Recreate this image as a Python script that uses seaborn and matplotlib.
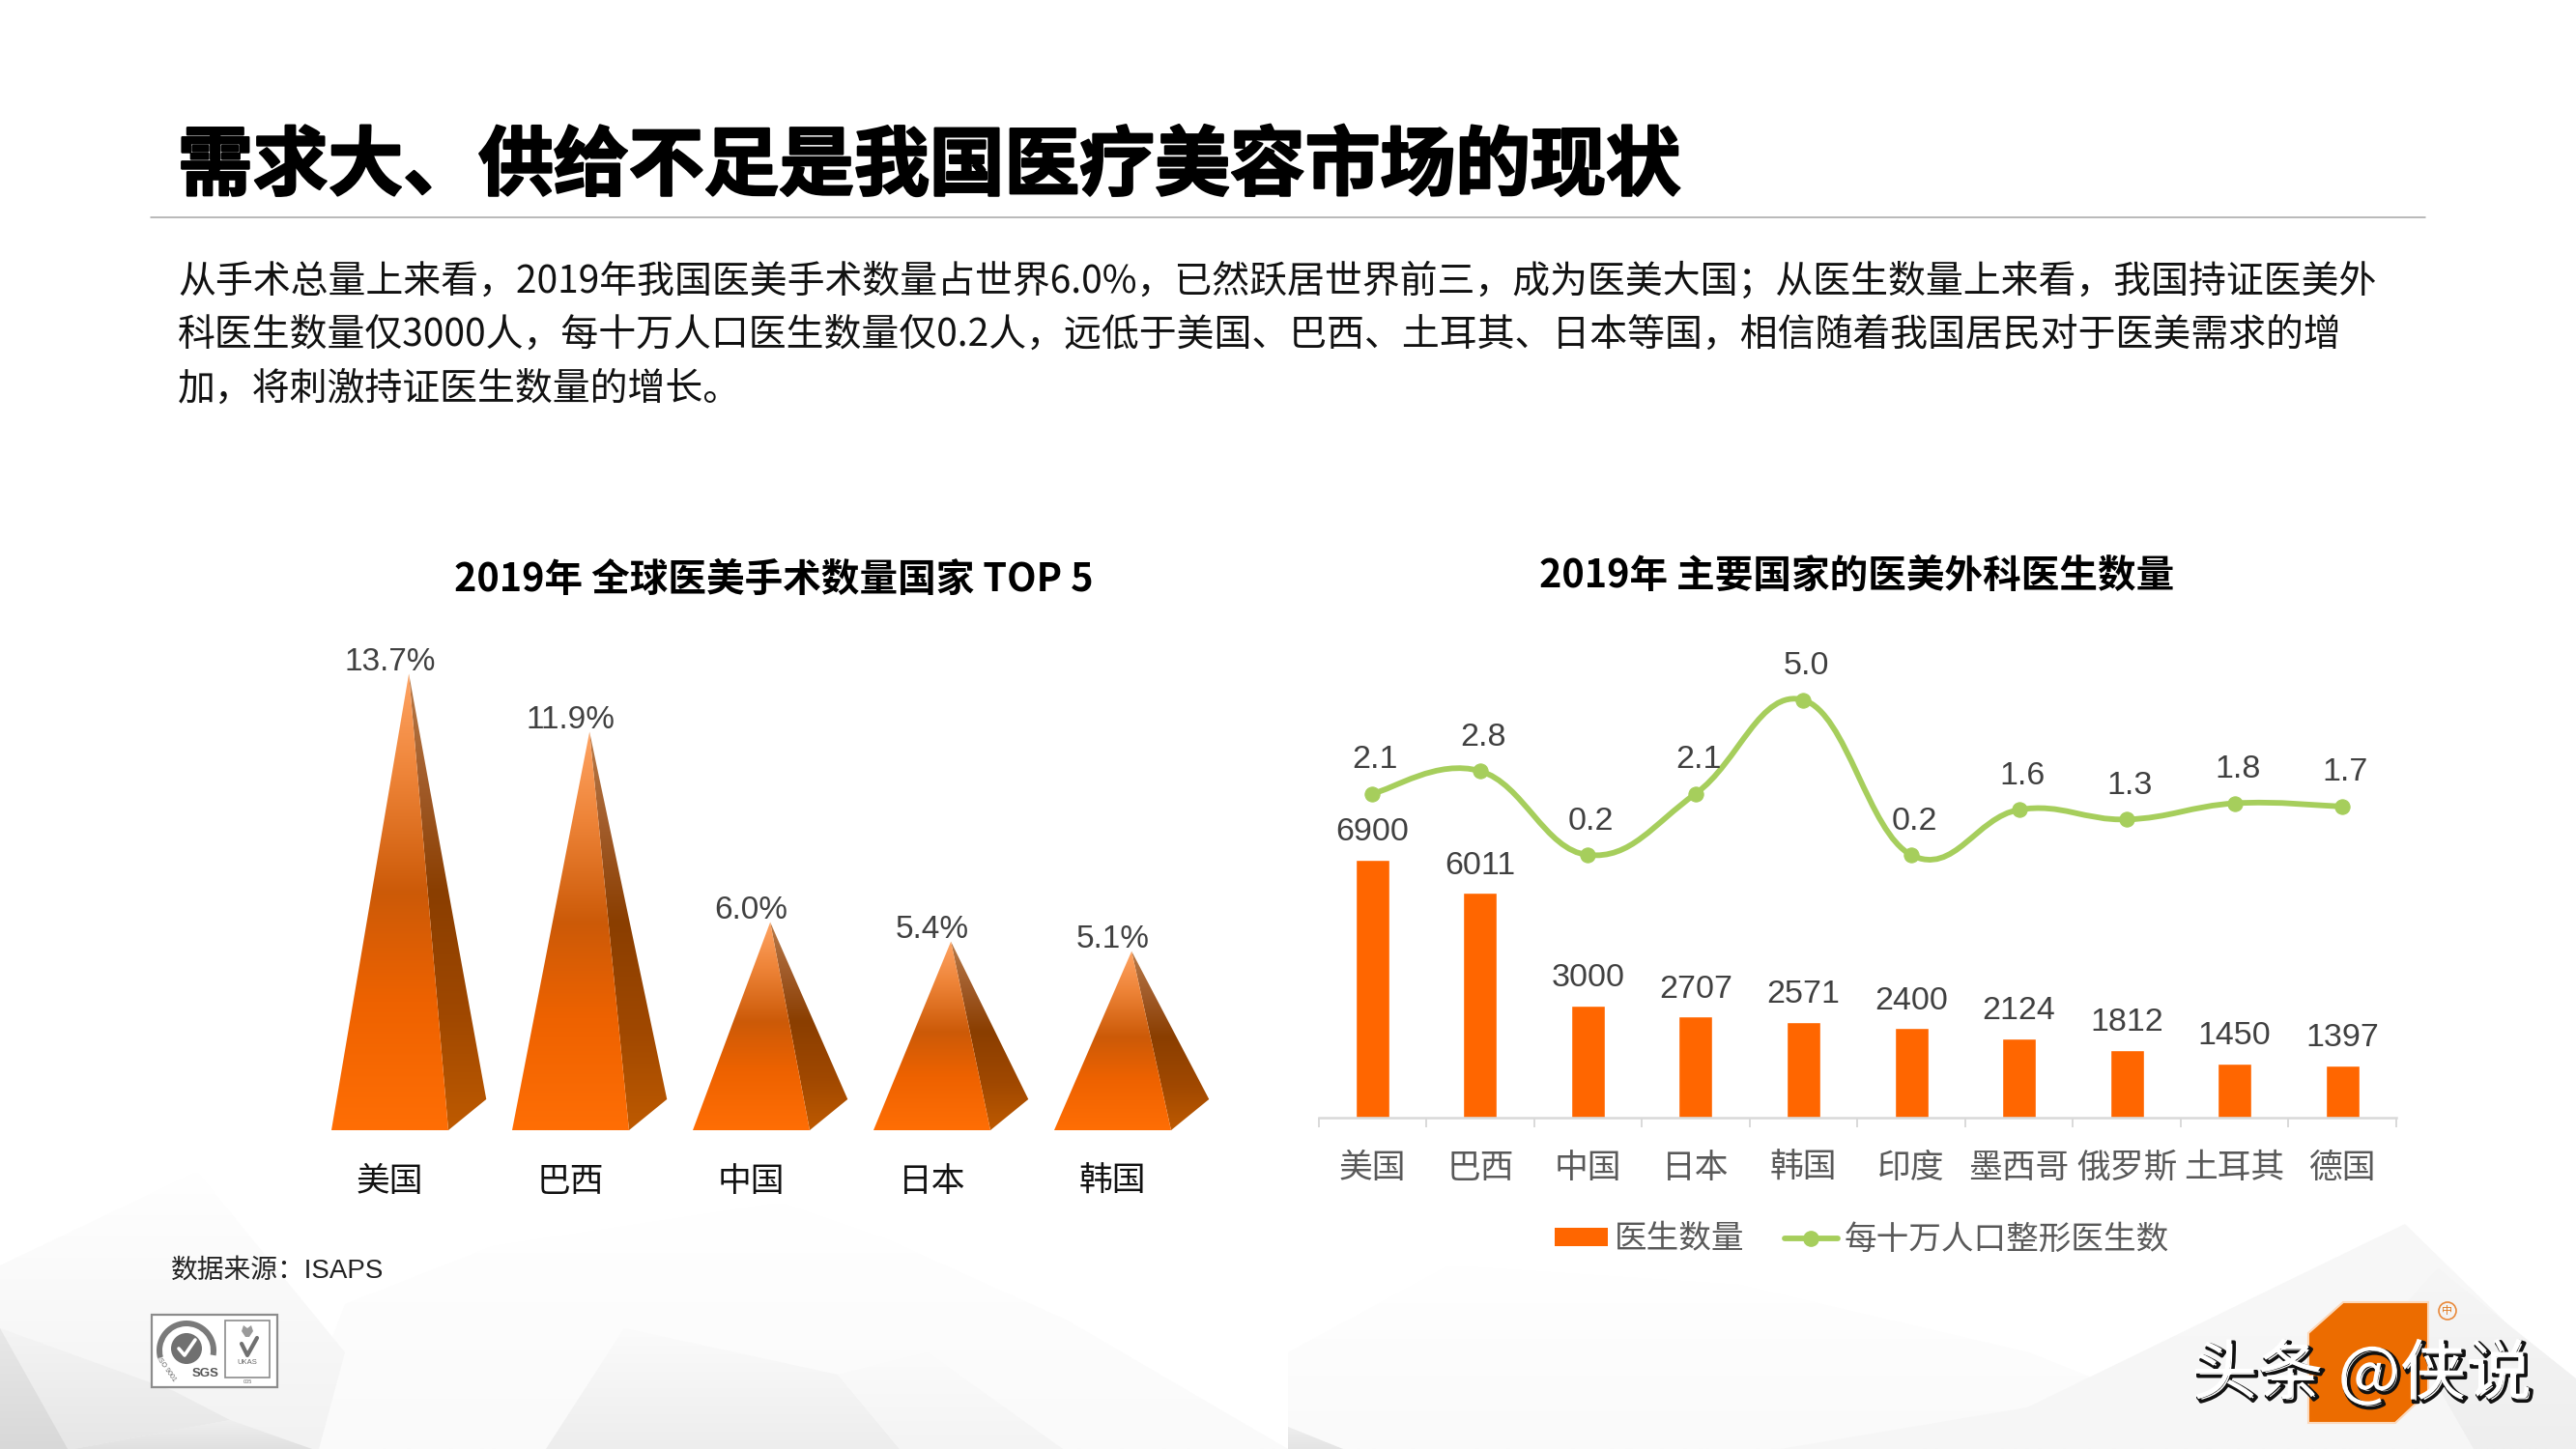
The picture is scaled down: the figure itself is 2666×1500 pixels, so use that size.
import numpy as np
import matplotlib
matplotlib.use("Agg")
import matplotlib.pyplot as plt
import matplotlib.patheffects as pe
from matplotlib.colors import LinearSegmentedColormap
from matplotlib.lines import Line2D
from matplotlib.patches import Patch, PathPatch, Polygon, Rectangle, Circle, Wedge
from matplotlib.path import Path
from matplotlib.ticker import FixedLocator
import seaborn as sns

# ---------- data ----------
title_text = "需求大、供给不足是我国医疗美容市场的现状"
body_lines = [
    "从手术总量上来看，2019年我国医美手术数量占世界6.0%，已然跃居世界前三，成为医美大国；从医生数量上来看，我国持证医美外",
    "科医生数量仅3000人，每十万人口医生数量仅0.2人，远低于美国、巴西、土耳其、日本等国，相信随着我国居民对于医美需求的增",
    "加，将刺激持证医生数量的增长。",
]
left_title = "2019年 全球医美手术数量国家 TOP 5"
right_title = "2019年 主要国家的医美外科医生数量"
top5_countries = ["美国", "巴西", "中国", "日本", "韩国"]
top5_share = [13.7, 11.9, 6.0, 5.4, 5.1]
doc_countries = ["美国", "巴西", "中国", "日本", "韩国", "印度", "墨西哥", "俄罗斯", "土耳其", "德国"]
doc_counts = [6900, 6011, 3000, 2707, 2571, 2400, 2124, 1812, 1450, 1397]
doc_per_100k = [2.1, 2.8, 0.2, 2.1, 5.0, 0.2, 1.6, 1.3, 1.8, 1.7]
legend_bar = "医生数量"
legend_line = "每十万人口整形医生数"
source_text = "数据来源：ISAPS"
watermark_text = "头条 @侠说"

# ---------- style ----------
sns.set_theme(style="white")
CJK = "Noto Sans CJK SC"
NUM = ["Liberation Sans", CJK]
plt.rcParams["font.family"] = [CJK, "DejaVu Sans"]
W, H = 2666, 1500
ORANGE = "#FF6600"
GREEN = "#A6CE5C"
LABEL = "#404040"
AXTEXT = "#595959"
PX = 0.72  # points per pixel at dpi 100

fig = plt.figure(figsize=(W / 100, H / 100), dpi=100, facecolor="white")


def axes_px(left, top, right, bottom, **kw):
    return fig.add_axes([left / W, 1 - bottom / H, (right - left) / W, (bottom - top) / H], **kw)


# ---------- background / decoration (pixel coordinates) ----------
bg = fig.add_axes([0, 0, 1, 1], zorder=0)
bg.set_xlim(0, W)
bg.set_ylim(H, 0)
bg.axis("off")

vgrad = np.linspace(0, 1, 128).reshape(-1, 1)


def fade_poly(pts, top_col, bot_col):
    """Decorative low-poly facet with a soft vertical fade."""
    pts = np.array(pts, dtype=float)
    poly = Polygon(pts, closed=True, fc="none", ec="none")
    bg.add_patch(poly)
    cmap = LinearSegmentedColormap.from_list("f", [top_col, bot_col])
    im = bg.imshow(vgrad, cmap=cmap, aspect="auto", origin="upper", interpolation="bilinear",
                   extent=(pts[:, 0].min(), pts[:, 0].max(), pts[:, 1].max(), pts[:, 1].min()), zorder=1)
    im.set_clip_path(poly)


facets = [
    ([(357, 1350), (510, 1290), (808, 1245), (918, 1283), (1105, 1367), (1333, 1500), (300, 1500)], "#FFFFFF", "#FAFAFA"),
    ([(1333, 1400), (1500, 1310), (1800, 1330), (2100, 1400), (2350, 1500), (1333, 1500)], "#FFFFFF", "#FAFAFA"),
    ([(0, 1310), (204, 1213), (357, 1400), (330, 1500), (0, 1500)], "#FFFFFF", "#F2F2F2"),
    ([(0, 1375), (180, 1440), (238, 1470), (76, 1500), (0, 1500)], "#F4F4F4", "#E6E6E6"),
    ([(0, 1375), (70, 1500), (0, 1500)], "#E8E8E8", "#D8D8D8"),
    ([(76, 1500), (238, 1470), (323, 1500)], "#EFEFEF", "#E0E0E0"),
    ([(646, 1375), (867, 1423), (931, 1500), (565, 1500)], "#FBFBFB", "#EDEDED"),
    ([(867, 1423), (931, 1500), (1100, 1500), (960, 1400)], "#FBFBFB", "#F4F4F4"),
    ([(2489, 1267), (2666, 1440), (2666, 1500), (1843, 1500), (2098, 1457)], "#F8F8F8", "#F6F6F6"),
    ([(2523, 1313), (2666, 1427), (2666, 1500), (2560, 1500), (2480, 1360)], "#F6F6F6", "#EEEEEE"),
    ([(1333, 1477), (1390, 1500), (1333, 1500)], "#EEEEEE", "#E4E4E4"),
]
for pts, c0, c1 in facets:
    fade_poly(pts, c0, c1)
bg.set_xlim(0, W)
bg.set_ylim(H, 0)

bg.text(184, 173, title_text, fontsize=56, fontweight="bold", color="black", va="center", ha="left",
        path_effects=[pe.Stroke(linewidth=1.7, foreground="black"), pe.Normal()], zorder=3)
bg.plot([156, 2510], [225, 225], color="#A6A6A6", lw=1.1, zorder=3)
for y, line in zip([292, 347, 403], body_lines):
    bg.text(184, y, line, fontsize=28, color="#111111", va="center", ha="left", zorder=3)
bg.text(801, 600, left_title, fontsize=28.5, fontweight="bold", color="black", va="center", ha="center", zorder=3)
bg.text(1922, 596, right_title, fontsize=28.5, fontweight="bold", color="black", va="center", ha="center", zorder=3)
bg.text(177, 1316, source_text, fontsize=20, family=NUM, color="#222222", va="center", ha="left", zorder=3)

# certification logo
bg.add_patch(Rectangle((157, 1361), 130, 75, fc="white", ec="#8C8C8C", lw=1.6, zorder=3))
bg.add_patch(Wedge((193, 1398), 31, 165, 370, width=6, fc="#7A7A7A", ec="none", zorder=4))
bg.add_patch(Circle((193, 1396), 16, fc="#707070", ec="none", zorder=4))
bg.plot([185, 191, 202], [1396, 1403, 1387], color="white", lw=2.6, zorder=5)
bg.text(213, 1422, "SGS", fontsize=9.5, color="#555555", ha="center", va="center", family=NUM, fontweight="bold", zorder=5)
bg.text(172, 1417, "ISO 9001", fontsize=5, color="#666666", ha="center", va="center", rotation=-55, family=NUM, zorder=5)
bg.add_patch(Rectangle((233, 1367), 46, 59, fc="white", ec="#8C8C8C", lw=1.2, zorder=3))
bg.add_patch(Polygon([(250, 1378), (252, 1372), (256, 1375), (260, 1372), (262, 1378), (258, 1384), (254, 1384)],
                     fc="#9A9A9A", ec="none", zorder=4))
bg.plot([250, 256, 266], [1391, 1403, 1385], color="#707070", lw=3, zorder=4)
bg.text(256, 1410, "UKAS", fontsize=5.5, color="#666666", ha="center", va="center", family=NUM, zorder=4)
bg.text(256, 1431, "005", fontsize=4, color="#666666", ha="center", va="center", family=NUM, zorder=4)

# watermark
bg.add_patch(Polygon([(2425, 1348), (2513, 1348), (2513, 1441), (2479, 1473), (2389, 1473), (2389, 1380)],
                     fc="#EC6C00", ec="#FBD9BC", lw=1.5, zorder=3))
bg.add_patch(Circle((2533, 1357), 9, fc="none", ec="#E98A3C", lw=1.2, zorder=3))
bg.text(2533, 1357, "中", fontsize=8, color="#E07A20", ha="center", va="center", zorder=3)
bg.text(2444, 1424, watermark_text, fontsize=49, color="white", ha="center", va="center", zorder=4,
        path_effects=[pe.Stroke(linewidth=2.6, foreground="#111111", offset=(2, -2)), pe.Normal()])

# ---------- left chart: pyramids ----------
axL = axes_px(310, 680, 1280, 1170, zorder=2, facecolor="none")
sns.barplot(x=top5_countries, y=top5_share, ax=axL, width=0.647, alpha=0, errorbar=None)

y_low = -0.45
y_high = (1155 - 680) / 33.4
x_right = (1280 - 310) / 187 - 0.5

front_cmap = LinearSegmentedColormap.from_list(
    "front", [(0, "#FFA464"), (0.22, "#EE8438"), (0.48, "#CC5A08"), (0.72, "#EE6200"), (1, "#FF6E05")])
side_cmap = LinearSegmentedColormap.from_list(
    "side", [(0, "#B87A48"), (0.25, "#A05A28"), (0.48, "#8A3E00"), (0.75, "#A04800"), (1, "#BE5A00")])
grad = np.linspace(0, 1, 256).reshape(-1, 1)
depth_x, depth_y, apex_dx = 0.21, 0.96, 0.105

for bar, val in zip(axL.patches, top5_share):
    x0, x1 = bar.get_x(), bar.get_x() + bar.get_width()
    xc = (x0 + x1) / 2
    apex = (xc + apex_dx, val)
    f_pts = [(x0, y_low), (x1, y_low), apex]
    s_pts = [(x1, y_low), (x1 + depth_x, y_low + depth_y), apex]
    for pts, cmap in ((s_pts, side_cmap), (f_pts, front_cmap)):
        poly = Polygon(pts, closed=True, fc="none", ec="none", transform=axL.transData)
        axL.add_patch(poly)
        im = axL.imshow(grad, cmap=cmap, extent=(x0 - 0.01, x1 + depth_x + 0.01, y_low, val),
                        aspect="auto", origin="upper", zorder=2, interpolation="bilinear")
        im.set_clip_path(poly)
    axL.annotate(f"{val:.1f}%", (xc, val), xytext=(0, 12 * PX), textcoords="offset points", ha="center",
                 va="center", fontsize=24, family=NUM, color=LABEL, zorder=5)

axL.set_xlim(-0.5, x_right)
axL.set_ylim(y_low, y_high)
axL.set_ylabel("")
axL.set_yticks([])
sns.despine(ax=axL, left=True, bottom=True)
axL.tick_params(axis="x", length=0, pad=26, labelsize=25, labelcolor="#111111")

# ---------- right chart: bars and smooth line ----------
axR = axes_px(1364.5, 700, 2480, 1157, zorder=2, facecolor="none")
positions = np.arange(len(doc_countries))
sns.barplot(x=doc_countries, y=doc_counts, ax=axR, color=ORANGE, saturation=1, width=0.314, errorbar=None)
axR.set_xlim(-0.5, 9.5)
axR.set_ylim(0, 457 / 0.0387)
axR.set_yticks([])
axR.set_ylabel("")
sns.despine(ax=axR, left=True)
axR.spines["bottom"].set_color("#D9D9D9")
axR.spines["bottom"].set_linewidth(1.8)
axR.xaxis.set_minor_locator(FixedLocator(np.arange(-0.5, 10, 1)))
axR.tick_params(axis="x", which="minor", length=10 * PX, width=1.4, color="#D9D9D9", bottom=True)
axR.tick_params(axis="x", which="major", length=0, pad=25, labelsize=25, labelcolor=AXTEXT)

for bar, val in zip(axR.patches, doc_counts):
    axR.annotate(str(val), (bar.get_x() + bar.get_width() / 2, val), xytext=(0, 28 * PX),
                 textcoords="offset points", ha="center", va="center", fontsize=24.5, family=NUM, color=LABEL)

axT = axR.twinx()
axT.patch.set_visible(False)
axT.set_ylim((891.7 - 1157) / 33.4, (891.7 - 700) / 33.4)
yv = np.array(doc_per_100k)
xv = positions.astype(float)
verts, codes = [(xv[0], yv[0])], [Path.MOVETO]
t = 0.2
for i in range(len(xv) - 1):
    im1, ip2 = max(i - 1, 0), min(i + 2, len(xv) - 1)
    verts += [
        (xv[i] + (xv[i + 1] - xv[im1]) * t, yv[i] + (yv[i + 1] - yv[im1]) * t),
        (xv[i + 1] - (xv[ip2] - xv[i]) * t, yv[i + 1] - (yv[ip2] - yv[i]) * t),
        (xv[i + 1], yv[i + 1]),
    ]
    codes += [Path.CURVE4] * 3
axT.add_patch(PathPatch(Path(verts, codes), fc="none", ec=GREEN, lw=4.2, capstyle="round"))
sns.lineplot(x=xv, y=yv, ax=axT, marker="o", markersize=11, linestyle="none", color=GREEN,
             markeredgecolor=GREEN, errorbar=None)
axT.set_xlim(-0.5, 9.5)
axT.set_yticks([])
axT.set_ylabel("")
for s in axT.spines.values():
    s.set_visible(False)
for x, val in zip(xv, doc_per_100k):
    axT.annotate(f"{val:.1f}", (x, val), xytext=(3 * PX, 35 * PX), textcoords="offset points", ha="center",
                 va="center", fontsize=24.5, family=NUM, color=LABEL)

handles = [Patch(fc=ORANGE, ec="none"),
           Line2D([0], [0], color=GREEN, lw=4.2, marker="o", markersize=11)]
fig.legend(handles, [legend_bar, legend_line], loc="center", bbox_to_anchor=(1927 / W, 1 - 1283 / H),
           ncol=2, frameon=False, fontsize=24.2, labelcolor=AXTEXT, handlelength=1.62, handleheight=0.5,
           handletextpad=0.2, columnspacing=1.25, borderpad=0, labelspacing=0)

fig.savefig("out.png", dpi=100, facecolor="white")
